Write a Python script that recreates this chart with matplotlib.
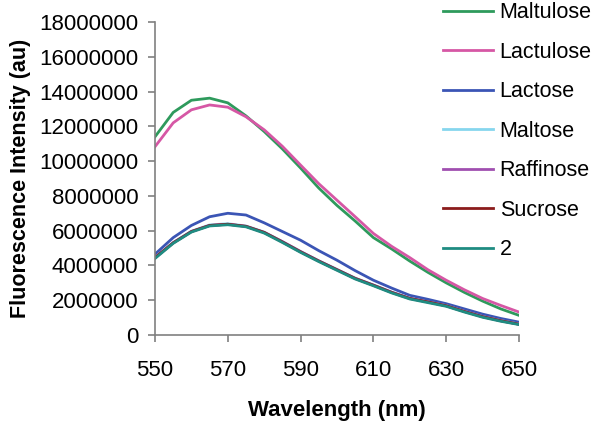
import numpy as np
from matplotlib import pyplot as plt

plt.rcParams['font.family'] = ['Liberation Sans', 'DejaVu Sans']

# wavelength samples (nm)
wavelength = [550, 555, 560, 565, 570, 575, 580, 585, 590, 595, 600,
              605, 610, 615, 620, 625, 630, 635, 640, 645, 650]

# fluorescence intensity (au)
maltulose = [11.4e6, 12.8e6, 13.5e6, 13.62e6, 13.35e6, 12.6e6, 11.7e6, 10.7e6, 9.6e6, 8.45e6, 7.45e6,
             6.55e6, 5.6e6, 4.95e6, 4.25e6, 3.6e6, 3.0e6, 2.45e6, 1.95e6, 1.5e6, 1.13e6]
lactulose = [10.83e6, 12.2e6, 12.95e6, 13.23e6, 13.1e6, 12.55e6, 11.8e6, 10.85e6, 9.77e6, 8.7e6, 7.75e6,
             6.8e6, 5.84e6, 5.1e6, 4.45e6, 3.75e6, 3.15e6, 2.6e6, 2.1e6, 1.7e6, 1.32e6]
lactose = [4.65e6, 5.6e6, 6.3e6, 6.8e6, 7.0e6, 6.9e6, 6.45e6, 5.95e6, 5.45e6, 4.85e6, 4.3e6,
           3.7e6, 3.15e6, 2.7e6, 2.28e6, 2.05e6, 1.8e6, 1.5e6, 1.2e6, 0.95e6, 0.74e6]
maltose = [4.45e6, 5.32e6, 5.97e6, 6.33e6, 6.4e6, 6.27e6, 5.92e6, 5.37e6, 4.8e6, 4.27e6, 3.77e6,
           3.27e6, 2.88e6, 2.47e6, 2.12e6, 1.9e6, 1.69e6, 1.36e6, 1.06e6, 0.83e6, 0.63e6]
raffinose = [4.45e6, 5.3e6, 5.95e6, 6.3e6, 6.37e6, 6.25e6, 5.9e6, 5.37e6, 4.8e6, 4.26e6, 3.76e6,
             3.26e6, 2.87e6, 2.46e6, 2.11e6, 1.9e6, 1.68e6, 1.36e6, 1.06e6, 0.82e6, 0.62e6]
sucrose = [4.45e6, 5.3e6, 5.95e6, 6.3e6, 6.37e6, 6.25e6, 5.9e6, 5.35e6, 4.78e6, 4.25e6, 3.75e6,
           3.25e6, 2.86e6, 2.45e6, 2.1e6, 1.9e6, 1.68e6, 1.35e6, 1.05e6, 0.82e6, 0.62e6]
compound2 = [4.4e6, 5.27e6, 5.92e6, 6.27e6, 6.34e6, 6.22e6, 5.86e6, 5.32e6, 4.75e6, 4.22e6, 3.72e6,
             3.22e6, 2.83e6, 2.42e6, 2.07e6, 1.86e6, 1.65e6, 1.32e6, 1.02e6, 0.79e6, 0.6e6]

labels = ['Maltulose', 'Lactulose', 'Lactose', 'Maltose', 'Raffinose', 'Sucrose', '2']
colors = ['#2e9a5c', '#d657a5', '#3b55b5', '#86d6ee', '#a04fb0', '#8b1c1c', '#1f8c82']
series = [maltulose, lactulose, lactose, maltose, raffinose, sucrose, compound2]

fig = plt.figure(figsize=(6.02, 4.32), dpi=100)
ax = fig.add_axes([155 / 602, 97 / 432, 364 / 602, 313 / 432])

for y, lab, c in zip(series, labels, colors):
    ax.plot(wavelength, y, color=c, lw=2, label=lab)

ax.set_xlim(550, 650)
ax.set_ylim(0, 18000000)
ax.set_xticks([550, 570, 590, 610, 630, 650])
ax.set_yticks(np.arange(0, 18000001, 2000000))
ax.yaxis.set_major_formatter(plt.FuncFormatter(lambda v, p: '%d' % v))

for s in ['top', 'right']:
    ax.spines[s].set_visible(False)
for s in ['left', 'bottom']:
    ax.spines[s].set_color('#808080')
    ax.spines[s].set_linewidth(1.2)
ax.tick_params(colors='#808080', labelcolor='black', labelsize=16, length=5, width=1.2, pad=7)
ax.tick_params(axis='x', pad=13)

ax.set_xlabel('Wavelength (nm)', fontsize=16, fontweight='bold', labelpad=14)
ax.set_ylabel('Fluorescence Intensity (au)', fontsize=15.5, fontweight='bold', labelpad=6)

ax.legend(loc='upper left', bbox_to_anchor=(443 / 602, 0.995), bbox_transform=fig.transFigure,
          frameon=False, fontsize=15.5, handlelength=2.3, handletextpad=0.33,
          labelspacing=0.86, borderpad=0, borderaxespad=0)

fig.savefig('out.png', dpi=100)
